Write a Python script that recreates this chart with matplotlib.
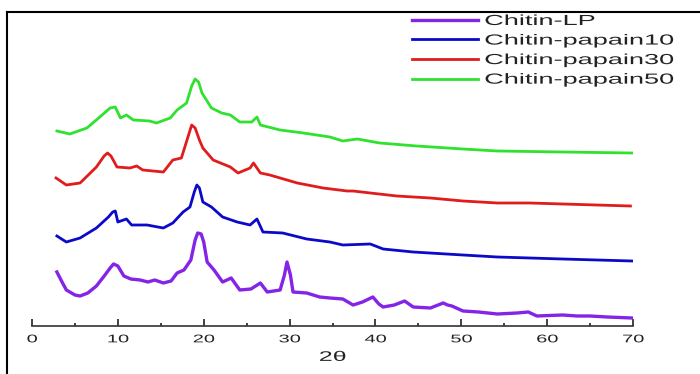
import numpy as np
import matplotlib
matplotlib.use("Agg")
import matplotlib.pyplot as plt
from matplotlib import patheffects
from matplotlib.lines import Line2D
from matplotlib.transforms import Affine2D

# XRD patterns, stacked (intensity in a.u., offset already applied)
labels = ["Chitin-LP", "Chitin-papain10", "Chitin-papain30", "Chitin-papain50"]
colors = ["#8424e6", "#0a0ac8", "#e01c1c", "#2ee22e"]
widths = [2.4, 2.0, 2.0, 2.0]

tt_lp = [2.9, 3.5, 4.0, 5.0, 5.6, 6.5, 7.5, 8.5, 9.1, 9.5, 10.0, 10.7, 11.5, 12.6, 13.5,
         14.3, 15.3, 16.2, 16.9, 17.7, 18.5, 19.0, 19.3, 19.7, 20.0, 20.4, 21.2, 22.2, 23.2,
         24.2, 25.5, 26.6, 27.4, 28.9, 29.4, 29.7, 30.1, 30.4, 32.0, 33.5, 34.7,
         36.2, 37.4, 38.5, 39.7, 40.4, 40.9, 42.2, 43.4, 44.4, 46.4, 47.9, 48.4,
         48.9, 50.2, 52.0, 54.2, 56.5, 57.8, 58.8, 61.8, 63.5, 65.0, 67.0, 69.9]
int_lp = [54, 44, 36, 31, 30, 33, 40, 51, 58, 62, 60, 50, 47, 46, 44,
          46, 43, 45, 53, 56, 66, 86, 93, 92, 84, 64, 56, 44, 48,
          36, 37, 43, 34, 36, 51, 64, 51, 34, 33, 29, 28,
          27, 21, 24, 29, 22, 19, 21, 25, 19, 18, 23, 21,
          20, 15, 14, 12, 13, 14, 10, 11, 10, 10, 9, 8]

tt_p10 = [2.9, 4.0, 5.6, 7.5, 8.9, 9.4, 9.7, 10.0, 11.0, 11.6, 13.4, 15.3, 16.4, 17.6,
          18.4, 18.9, 19.2, 19.5, 19.9, 20.9, 22.2, 23.9, 25.4, 26.2, 26.9, 29.2, 32.0, 34.7,
          36.2, 39.4, 40.9, 44.4, 50.2, 54.2, 61.8, 69.9]
int_p10 = [90, 84, 88, 98, 109, 114, 115, 104, 107, 101, 101, 98, 103, 114,
           119, 134, 141, 138, 124, 119, 109, 104, 101, 107, 94, 93, 87, 84,
           81, 82, 77, 74, 71, 69, 67, 65]

tt_p30 = [2.8, 4.0, 5.6, 7.5, 8.4, 8.8, 9.2, 9.9, 11.4, 12.2, 12.9, 15.3, 16.4, 17.4,
          18.2, 18.6, 19.0, 19.5, 19.9, 21.1, 23.1, 24.0, 25.4, 25.8, 26.6, 27.7, 30.9,
          33.9, 36.7, 37.4, 39.4, 42.5, 46.4, 50.2, 54.2, 58.0, 61.8, 69.7]
int_p30 = [148, 141, 143, 159, 170, 173, 170, 159, 158, 160, 156, 154, 166, 168,
           190, 201, 198, 186, 178, 166, 159, 153, 158, 163, 153, 151, 143,
           138, 135, 135, 133, 130, 128, 125, 123, 123, 122, 120]

tt_p50 = [2.9, 4.4, 6.4, 7.9, 9.1, 9.7, 10.3, 11.0, 11.8, 13.7, 14.5, 16.1, 16.9,
          18.0, 18.6, 19.0, 19.4, 19.8, 20.9, 22.1, 23.1, 24.2, 25.6, 26.2, 26.6, 28.9,
          31.6, 34.7, 36.2, 37.9, 40.5, 44.8, 50.2, 54.2, 61.8, 69.9]
int_p50 = [195, 192, 198, 209, 218, 219, 208, 211, 206, 205, 203, 208, 216,
           223, 240, 247, 244, 233, 218, 213, 211, 204, 204, 209, 201, 196,
           193, 189, 185, 187, 183, 180, 177, 175, 174, 173]

xticks = [0, 10, 20, 30, 40, 50, 60, 70]


class WideText(patheffects.AbstractPathEffect):
    """Stretch glyph outlines sideways about the left edge or the centre."""

    def __init__(self, sx, anchor="left"):
        super().__init__()
        self.sx = sx
        self.anchor = anchor

    def draw_path(self, renderer, gc, tpath, affine, rgbFace=None):
        x0 = 0.0
        if self.anchor == "center" and len(tpath.vertices):
            v = tpath.vertices[:, 0]
            x0 = (v.min() + v.max()) / 2
        pre = Affine2D().translate(-x0, 0).scale(self.sx, 1).translate(x0, 0)
        renderer.draw_path(gc, tpath, pre + affine, rgbFace)


plt.rcParams["font.family"] = ["Liberation Sans", "DejaVu Sans"]
text_color = "#222222"

fig = plt.figure(figsize=(7, 3.74), dpi=100)
ax = fig.add_axes([32 / 700, 48 / 374, 601 / 700, 314 / 374])

series = [(tt_lp, int_lp), (tt_p10, int_p10), (tt_p30, int_p30), (tt_p50, int_p50)]
for (x, y), lab, c, lw in zip(series, labels, colors, widths):
    ax.plot(x, y, color=c, lw=lw, label=lab, solid_joinstyle="round")

ax.set_xlim(0, 70)
ax.set_ylim(0, 314)
ax.set_yticks([])
for s in ("left", "right", "top"):
    ax.spines[s].set_visible(False)
ax.spines["bottom"].set_linewidth(1.2)
ax.spines["bottom"].set_color("#333333")

ax.set_xticks(xticks, [str(t) for t in xticks])
ax.set_xticks(np.arange(5, 70, 10), minor=True)
ax.tick_params(axis="x", which="major", direction="in", length=5, width=1.3,
               pad=6, labelsize=8, colors="#333333", labelcolor=text_color)
ax.tick_params(axis="x", which="minor", direction="in", length=2.5, width=1.3,
               colors="#333333")
for t in ax.get_xticklabels():
    t.set_path_effects([WideText(1.8, "center")])

xl = ax.set_xlabel("2θ", fontsize=10, color=text_color, labelpad=4)
xl.set_path_effects([WideText(1.8, "center")])

leg = ax.legend(loc="upper left", bbox_to_anchor=(412 / 700, 1 - 14 / 374),
                bbox_transform=fig.transFigure, frameon=False, fontsize=10.5,
                borderpad=0, borderaxespad=0, handlelength=4.5,
                handletextpad=0.45, labelspacing=0.38)
for t in leg.get_texts():
    t.set_color(text_color)
    t.set_path_effects([WideText(1.86, "left")])

# border lines along the top and left of the figure
fig.add_artist(Line2D([7 / 700, 1], [1 - 12 / 374] * 2, transform=fig.transFigure,
                      color="black", lw=1.5))
fig.add_artist(Line2D([7 / 700] * 2, [0, 1 - 12 / 374], transform=fig.transFigure,
                      color="black", lw=1.5))

fig.savefig("out.png", dpi=100)
